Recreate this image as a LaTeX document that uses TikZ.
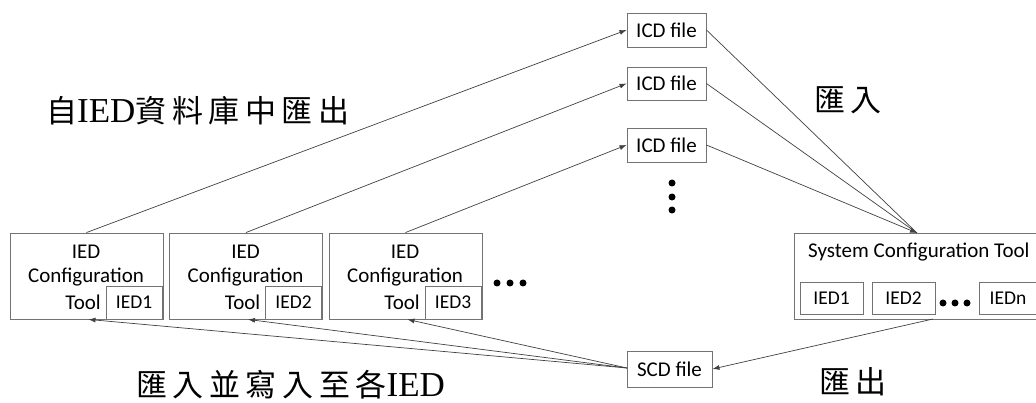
\documentclass[tikz,border=0pt]{standalone}
\usepackage{fontspec}
\setmainfont{Carlito}
\newfontfamily\cjkfont{Noto Sans CJK TC}
\newfontfamily\latinserif{Liberation Serif}
\usetikzlibrary{arrows.meta}
\definecolor{boxgray}{gray}{0.45}
\definecolor{linegray}{gray}{0.25}
\tikzset{
  box/.style={draw=boxgray, line width=0.9pt, inner sep=0pt, font=\fontsize{21}{23}\selectfont},
  smallbox/.style={box, font=\fontsize{19.5}{21}\selectfont},
  boxtext/.style={inner sep=0pt, font=\fontsize{21}{23}\selectfont},
  conn/.style={draw=linegray, line width=0.7pt, -{Latex[length=7pt,width=5pt]}},
  plainconn/.style={draw=linegray, line width=0.7pt},
  dotmark/.style={circle, fill=black, inner sep=0pt, minimum size=7pt},
  cjklabel/.style={inner sep=0pt, font=\cjkfont\fontsize{31}{34}\selectfont\addfontfeature{LetterSpace=18}}
}
\newcommand\serifIED{{\latinserif\fontsize{35}{36}\selectfont IED}}
\begin{document}
\begin{tikzpicture}[x=1pt,y=-1pt]
\useasboundingbox (0,0) rectangle (1036,403);
\clip (0,0) rectangle (1036,403);

% ICD files
\node[box, minimum width=79pt, minimum height=34pt] (icd1) at (666.5,30) {ICD file};
\node[box, minimum width=79pt, minimum height=33pt] (icd2) at (666.5,83.5) {ICD file};
\node[box, minimum width=79pt, minimum height=34pt] (icd3) at (666.5,145) {ICD file};
\node[dotmark] (vd1) at (672,183) {};
\node[dotmark] (vd2) at (672,197) {};
\node[dotmark] (vd3) at (672,210) {};

% IED configuration tools
\foreach \i/\cx in {1/86.5, 2/246, 3/405.5} {
  \node[box, minimum width=153pt, minimum height=86pt] (ict\i) at (\cx,276) {};
  \node[boxtext] (ict\i a) at (\cx-0.5,252) {IED};
  \node[boxtext] (ict\i b) at (\cx-0.5,277) {Configuration};
  \node[boxtext, anchor=east] (ict\i c) at (\cx+14.5,302) {Tool};
  \node[smallbox, minimum width=56pt, minimum height=33pt] (ied\i) at (\cx+47.5,302.5) {IED\i};
}
\node[dotmark] (hd1) at (497,283) {};
\node[dotmark] (hd2) at (510,283) {};
\node[dotmark] (hd3) at (523,283) {};

% System configuration tool
\node[box, minimum width=250pt, minimum height=86pt] (sct) at (919,276) {};
\node[boxtext, anchor=west] (scttext) at (808,252) {System Configuration Tool};
\node[smallbox, minimum width=63pt, minimum height=32pt] (sied1) at (831.5,298) {IED1};
\node[smallbox, minimum width=63pt, minimum height=32pt] (sied2) at (903.5,298) {IED2};
\node[dotmark] (sd1) at (943,303) {};
\node[dotmark] (sd2) at (955,303) {};
\node[dotmark] (sd3) at (967,303) {};
\node[smallbox, minimum width=63pt, minimum height=32pt, anchor=west] (siedn) at (979,298) {\hspace*{-6pt}IEDn};

% SCD file
\node[box, minimum width=85pt, minimum height=36pt] (scd) at (669.5,369) {SCD file};

% connectors
\coordinate (sctin) at (917,233);
\coordinate (sctout) at (933,319);
\draw[conn] (ict1.north) -- (icd1.west);
\draw[conn] (ict2.north) -- (icd2.west);
\draw[conn] (ict3.north) -- (icd3.west);
\draw[plainconn] (icd1.east) -- (sctin);
\draw[plainconn] (icd2.east) -- (sctin);
\draw[conn] (icd3.east) -- (sctin);
\draw[conn] (sctout) -- (scd.east);
\coordinate (scdl) at (627,368);
\draw[conn] (scdl) -- ([xshift=2pt]ict1.south);
\draw[conn] (scdl) -- ([xshift=2pt]ict2.south);
\draw[conn] (scdl) -- ([xshift=2pt]ict3.south);

% labels
\node[cjklabel, anchor=west] (lab1) at (46,111) {自\serifIED 資料庫中匯出};
\node[cjklabel, anchor=west] (lab2) at (814,100) {匯入};
\node[cjklabel, anchor=west] (lab3) at (136,385) {匯入並寫入至各\serifIED};
\node[cjklabel, anchor=west] (lab4) at (819,382) {匯出};
\end{tikzpicture}
\end{document}
